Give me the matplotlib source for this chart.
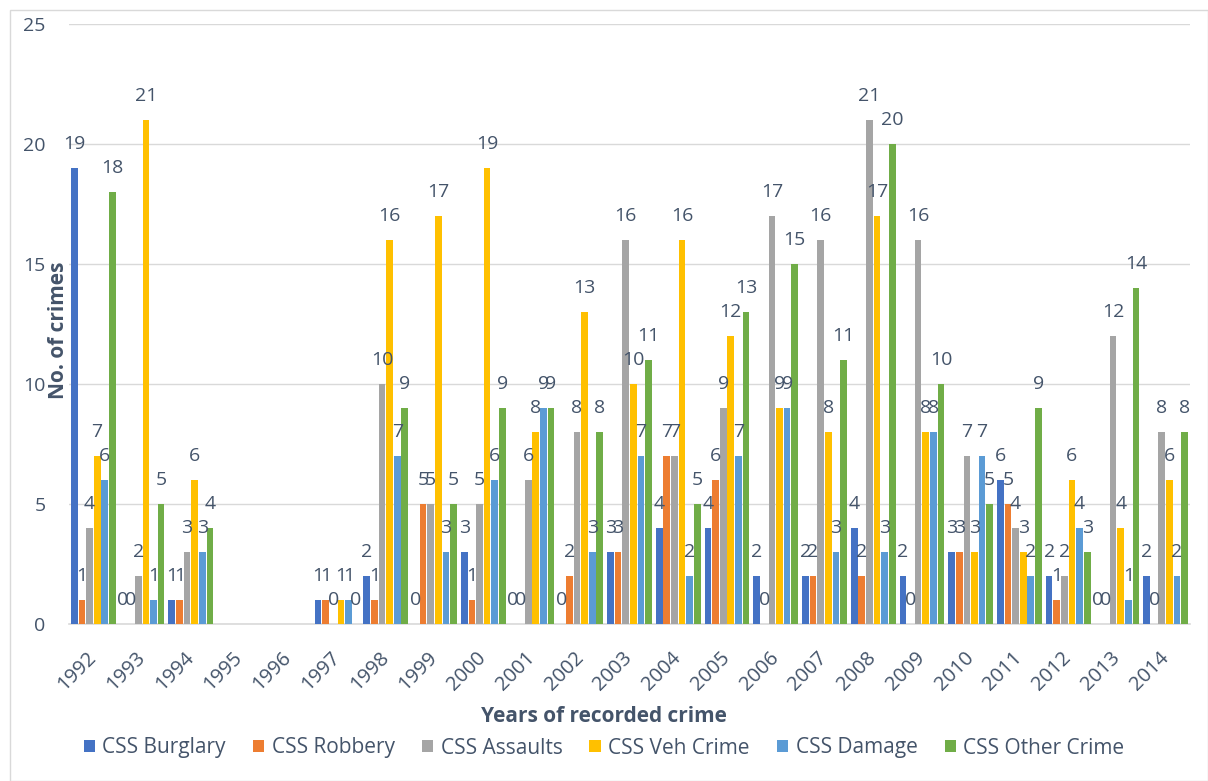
import matplotlib
matplotlib.use("Agg")
import matplotlib.pyplot as plt
import numpy as np
from matplotlib.patches import Rectangle

years = [str(y) for y in range(1992, 2015)]
series_names = ["CSS Burglary", "CSS Robbery", "CSS Assaults", "CSS Veh Crime", "CSS Damage", "CSS Other Crime"]
N = None
burglary = [19, 0, 1, N, N, 1, 2, 0, 3, 0, 0, 3, 4, 4, 2, 2, 4, 2, 3, 6, 2, 0, 2]
robbery  = [1, 0, 1, N, N, 1, 1, 5, 1, 0, 2, 3, 7, 6, 0, 2, 2, 0, 3, 5, 1, 0, 0]
assaults = [4, 2, 3, N, N, 0, 10, 5, 5, 6, 8, 16, 7, 9, 17, 16, 21, 16, 7, 4, 2, 12, 8]
veh      = [7, 21, 6, N, N, 1, 16, 17, 19, 8, 13, 10, 16, 12, 9, 8, 17, 8, 3, 3, 6, 4, 6]
damage   = [6, 1, 3, N, N, 1, 7, 3, 6, 9, 3, 7, 2, 7, 9, 3, 3, 8, 7, 2, 4, 1, 2]
other    = [18, 5, 4, N, N, 0, 9, 5, 9, 9, 8, 11, 5, 13, 15, 11, 20, 10, 5, 9, 3, 14, 8]
all_series = [burglary, robbery, assaults, veh, damage, other]
colors = ["#4472C4", "#ED7D31", "#A5A5A5", "#FFC000", "#5B9BD5", "#70AD47"]

txt = "#44546A"
plt.rcParams['font.family'] = ['Open Sans', 'DejaVu Sans']
narrow = ['Liberation Sans Narrow', 'Open Sans', 'DejaVu Sans']

fig = plt.figure(figsize=(12.08, 7.81), dpi=100)
ax = fig.add_axes([69/1208, 1-624/781, 1121/1208, 600/781])

x = np.arange(len(years))
bw = 0.156
for i, (vals, c, name) in enumerate(zip(all_series, colors, series_names)):
    off = (i - 2.5) * bw
    xs = [xi + off for xi, v in zip(x, vals) if v is not None]
    vs = [v for v in vals if v is not None]
    ax.bar(xs, vs, width=bw*0.88, color=c, label=name, zorder=3)
    for xx, v in zip(xs, vs):
        ax.text(xx, v + 1.0, str(v), ha="center", va="center", fontsize=14, color=txt, zorder=4)

ax.set_xlim(-0.5, len(years) - 0.5)
ax.set_ylim(0, 25)
ax.set_yticks([0, 5, 10, 15, 20, 25])
ax.yaxis.grid(True, color="#D9D9D9", linewidth=1, zorder=0)
ax.set_axisbelow(True)
for s in ["top", "right", "left"]:
    ax.spines[s].set_visible(False)
ax.spines["bottom"].set_color("#D9D9D9")
ax.spines["bottom"].set_linewidth(1.2)
ax.tick_params(axis="y", length=0, pad=17, labelsize=14, labelcolor=txt)
ax.tick_params(axis="x", length=0, pad=22, labelsize=14.5, labelcolor=txt)
ax.set_xticks(x)
ax.set_xticklabels(years, rotation=45, ha="right", va="center", rotation_mode="anchor")

fig.text(0.5, 1-717/781, "Years of recorded crime", ha="center", va="center",
         fontsize=15, fontweight="bold", color=txt, family=narrow)
fig.text(58/1208, 1-330/781, "No. of crimes", ha="center", va="center", rotation=90,
         fontsize=15, fontweight="bold", color=txt, family=narrow)

leg = fig.legend(loc="center", bbox_to_anchor=(0.5, 1-748/781), ncol=6, frameon=False,
                 fontsize=15, handlelength=0.55, handleheight=0.55, handletextpad=0.35,
                 columnspacing=1.3)
for t in leg.get_texts():
    t.set_color(txt)

fig.patches.append(Rectangle((10/1208, 0), 1 - 10/1208, 1 - 10/781, transform=fig.transFigure,
                             fill=False, edgecolor="#D9D9D9", linewidth=1))
fig.savefig("out.png", dpi=100)
